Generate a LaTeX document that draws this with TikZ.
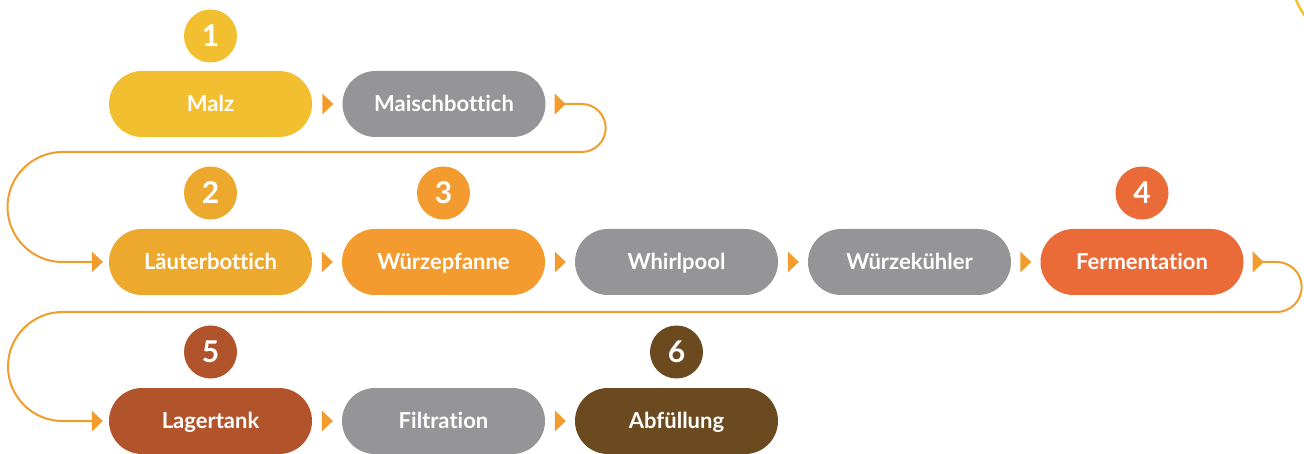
\documentclass[tikz,border=0pt]{standalone}
\usepackage{fontspec}
\setmainfont{Lato}[Ligatures={NoCommon}]
\usetikzlibrary{calc}
\definecolor{cMalz}{HTML}{F2BF30}
\definecolor{cLaut}{HTML}{EDA92E}
\definecolor{cWuerze}{HTML}{F39B2E}
\definecolor{cGray}{HTML}{959597}
\definecolor{cFerm}{HTML}{EA6B37}
\definecolor{cLager}{HTML}{B2542B}
\definecolor{cAbf}{HTML}{6B4A1F}
\definecolor{cLine}{HTML}{F39C2E}
\tikzset{
  stage/.style={rectangle, rounded corners=33pt, minimum width=203pt, minimum height=66pt,
    inner sep=0pt, text=white, text height=15.5pt, text depth=0pt,
    font=\fontsize{22}{26}\selectfont\bfseries},
  badge/.style={circle, minimum size=53pt, inner sep=0pt, text=white,
    text height=21pt, text depth=0pt,
    font=\fontsize{30}{34}\selectfont\bfseries},
  flow/.style={draw=cLine, line width=2pt},
}
\newcommand{\tri}[1]{\fill[cLine] ($#1$) -- ++(-11,-10.5) -- ++(0,21) -- cycle;}
\begin{document}
\begin{tikzpicture}[x=1pt,y=-1pt]
\useasboundingbox (0,0) rectangle (1304,454);
% row 1
\node[stage, fill=cMalz] (malz) at (210.5,104) {Malz};
\node[stage, fill=cGray] (maisch) at (444,104) {Maischbottich};
% row 2
\node[stage, fill=cLaut] (laut) at (210.5,262) {Läuterbottich};
\node[stage, fill=cWuerze] (pfanne) at (443.5,262) {Würzepfanne};
\node[stage, fill=cGray] (whirl) at (676.5,262) {Whirlpool};
\node[stage, fill=cGray] (kuehl) at (909.5,262) {Würzekühler};
\node[stage, fill=cFerm] (ferm) at (1142,262) {Fermentation};
% row 3
\node[stage, fill=cLager] (lager) at (210.5,421) {Lagertank};
\node[stage, fill=cGray] (filt) at (443.5,421) {Filtration};
\node[stage, fill=cAbf] (abf) at (676.5,421) {Abfüllung};
% badges
\node[badge, fill=cMalz] (n1) at (210.5,36) {1};
\node[badge, fill=cLaut] (n2) at (210.5,193) {2};
\node[badge, fill=cWuerze] (n3) at (443.5,193) {3};
\node[badge, fill=cFerm] (n4) at (1142,193) {4};
\node[badge, fill=cLager] (n5) at (210.5,352) {5};
\node[badge, fill=cAbf] (n6) at (676.5,352) {6};
% arrows between stages
\tri{(maisch.west)+(-9,0)}
\tri{(pfanne.west)+(-9,0)}
\tri{(whirl.west)+(-9,0)}
\tri{(kuehl.west)+(-9,0)}
\tri{(ferm.west)+(-9,0)}
\tri{(filt.west)+(-9,0)}
\tri{(abf.west)+(-9,0)}
% loop arrows
\tri{(maisch.east)+(20,0)}
\tri{(ferm.east)+(20,0)}
\tri{(laut.west)+(-6,0)}
\tri{(lager.west)+(-6,0)}
\draw[flow] ($(maisch.east)+(19,0)$) -- ++(17,0)
  arc[start angle=-90, end angle=90, radius=24] -- (62.5,152)
  arc[start angle=270, end angle=90, radius=55] -- ($(laut.west)+(-16,0)$);
\draw[flow] ($(ferm.east)+(19,0)$) -- ++(14,0)
  arc[start angle=-90, end angle=90, radius=25] -- (62.5,312)
  arc[start angle=270, end angle=90, radius=54.5] -- ($(lager.west)+(-16,0)$);
% decorative arc fragment at the top right corner
\draw[cMalz, line width=2.5pt] (1295.5,-2) to[bend right=8] (1305,16);
\end{tikzpicture}
\end{document}
